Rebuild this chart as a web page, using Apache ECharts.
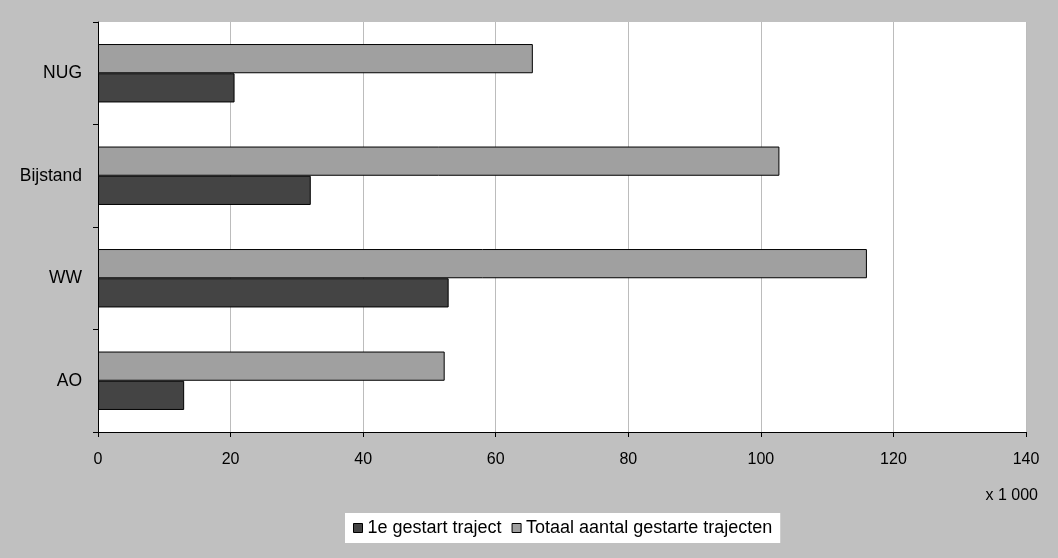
<!DOCTYPE html>
<html><head><meta charset="utf-8">
<script src="https://cdn.jsdelivr.net/npm/echarts@6/dist/echarts.min.js"></script>
<style>html,body{margin:0;padding:0;background:#c0c0c0}#c{width:1058px;height:558px}</style>
</head><body><div id="c"></div>
<script>
const categories = ["AO", "WW", "Bijstand", "NUG"];
const firstStarted = [13.0, 52.9, 32.1, 20.6];
const totalStarted = [52.3, 116.0, 102.8, 65.6];
const seriesNames = ["1e gestart traject", "Totaal aantal gestarte trajecten"];
const unitLabel = "x 1 000";

const font = "Liberation Sans, Arial, sans-serif";
const chart = echarts.init(document.getElementById('c'), null, {renderer: 'canvas'});
chart.setOption({
  backgroundColor: '#c0c0c0',
  animation: false,
  grid: {left: 98, right: 32, top: 22, bottom: 126, backgroundColor: '#ffffff', show: true, borderWidth: 0},
  legend: {
    data: seriesNames, bottom: 15, left: 345,
    backgroundColor: '#ffffff', padding: [6, 8], itemGap: 10,
    itemWidth: 9, itemHeight: 9, icon: 'rect',
    textStyle: {fontFamily: font, fontSize: 18, color: '#000'},
    itemStyle: {borderColor: '#000', borderWidth: 1}
  },
  xAxis: {
    type: 'value', min: 0, max: 140, interval: 20,
    axisLine: {show: true, lineStyle: {color: '#000', width: 1}},
    axisTick: {show: true, length: 5, lineStyle: {color: '#000'}},
    splitLine: {show: true, lineStyle: {color: '#bcbcbc', width: 1}},
    axisLabel: {fontFamily: font, fontSize: 16, color: '#000', margin: 20}
  },
  yAxis: {
    type: 'category', data: categories,
    axisLine: {show: true, lineStyle: {color: '#000', width: 1}},
    axisTick: {show: true, length: 5, lineStyle: {color: '#000'}},
    axisLabel: {fontFamily: font, fontSize: 17.5, color: '#000', margin: 16}
  },
  series: [
    {name: seriesNames[1], type: 'bar', data: totalStarted, barGap: '0%', barCategoryGap: '43%',
     itemStyle: {color: '#a0a0a0', borderColor: '#000', borderWidth: 1}},
    {name: seriesNames[0], type: 'bar', data: firstStarted, barGap: '0%', barCategoryGap: '43%',
     itemStyle: {color: '#444444', borderColor: '#000', borderWidth: 1}}
  ],
  graphic: [{
    type: 'text', right: 20, top: 488,
    style: {text: unitLabel, font: '16px ' + font, fill: '#000'}
  }]
});
</script></body></html>
